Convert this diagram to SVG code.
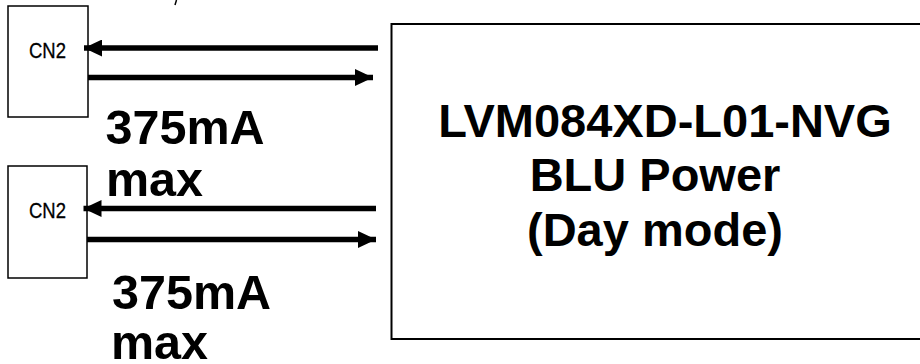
<svg xmlns="http://www.w3.org/2000/svg" width="920" height="364" viewBox="0 0 920 364">
<style>
.box{fill:#fff;stroke:#000;stroke-width:1.5}
.big{fill:#fff;stroke:#000;stroke-width:2}
.cn{font-family:"Liberation Sans",Arial,sans-serif;font-size:21.5px;fill:#000;text-anchor:middle;stroke:#000;stroke-width:0.3}
.lbl{font-family:"Liberation Sans",Arial,sans-serif;font-size:48.5px;font-weight:bold;fill:#000}
.title{font-family:"Liberation Sans",Arial,sans-serif;font-size:47px;font-weight:bold;fill:#000;text-anchor:middle}
.wire{stroke:#000;stroke-width:5.5;fill:none}
</style>
<defs>
<marker id="ah" viewBox="0 0 18 17" refX="18" refY="8.5" markerWidth="18" markerHeight="17" markerUnits="userSpaceOnUse" orient="auto">
<path d="M0,0 L18,8.5 L0,17 Z" fill="#000"/>
</marker>
</defs>
<path d="M176.5,0 L175,5" stroke="#000" stroke-width="1.5"/>
<g id="blu">
<rect class="big" x="391.5" y="24" width="540" height="315"/>
<text class="title" x="665" y="136.5">LVM084XD-L01-NVG</text>
<text class="title" x="655" y="191">BLU Power</text>
<text class="title" x="655" y="246">(Day mode)</text>
</g>
<g id="cn2a">
<rect class="box" x="8" y="6" width="80" height="111"/>
<text class="cn" transform="translate(47.5,57.5) scale(0.86,1)" x="0" y="0">CN2</text>
</g>
<g id="cn2b">
<rect class="box" x="8" y="166" width="79" height="112"/>
<text class="cn" transform="translate(47.5,217.5) scale(0.86,1)" x="0" y="0">CN2</text>
</g>
<g id="labels">
<text class="lbl" x="105.5" y="144">375mA</text>
<text class="lbl" x="106" y="196">max</text>
<text class="lbl" x="112" y="308.5">375mA</text>
<text class="lbl" x="111" y="358.5">max</text>
</g>
<g id="connectors">
<line class="wire" x1="378" y1="48" x2="84" y2="48" marker-end="url(#ah)"/>
<line class="wire" x1="88" y1="77.5" x2="373" y2="77.5" marker-end="url(#ah)"/>
<line class="wire" x1="376" y1="208.5" x2="83.5" y2="208.5" marker-end="url(#ah)"/>
<line class="wire" x1="87" y1="239.5" x2="376" y2="239.5" marker-end="url(#ah)"/>
</g>
</svg>
